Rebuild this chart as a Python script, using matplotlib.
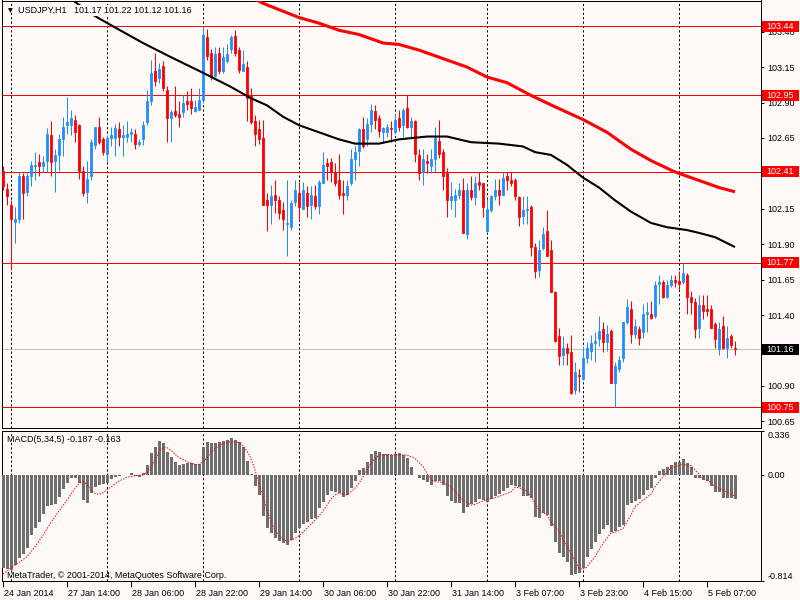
import numpy as np
import matplotlib
matplotlib.use('Agg')
import matplotlib.pyplot as plt
from matplotlib.patches import Rectangle
import matplotlib.transforms as mtransforms

# ---------------- data ----------------
opens = [102.42, 102.29, 102.18, 102.06, 102.08, 102.38, 102.27, 102.38, 102.45, 102.48,
         102.45, 102.49, 102.67, 102.49, 102.53, 102.64, 102.74, 102.74, 102.78, 102.74,
         102.42, 102.27, 102.38, 102.60, 102.73, 102.64, 102.54, 102.65, 102.65, 102.71,
         102.66, 102.66, 102.68, 102.68, 102.61, 102.64, 102.76, 102.91, 103.12, 103.07,
         103.16, 102.99, 102.79, 102.84, 102.82, 102.83, 102.91, 102.91, 102.84, 102.85,
         102.92, 103.36, 103.25, 103.09, 103.25, 103.12, 103.19, 103.28, 103.37, 103.27,
         103.12, 103.15, 102.95, 102.77, 102.71, 102.65, 102.21, 102.18, 102.25, 102.21,
         102.14, 102.04, 102.02, 102.20, 102.26, 102.15, 102.26, 102.18, 102.24, 102.17,
         102.33, 102.47, 102.48, 102.41, 102.35, 102.26, 102.25, 102.33, 102.50, 102.56,
         102.71, 102.64, 102.75, 102.84, 102.79, 102.69, 102.69, 102.72, 102.69, 102.79,
         102.74, 102.86, 102.73, 102.77, 102.53, 102.41, 102.49, 102.45, 102.50, 102.63,
         102.55, 102.41, 102.21, 102.21, 102.25, 102.28, 101.97, 102.28, 102.23, 102.34,
         102.33, 101.99, 102.14, 102.24, 102.28, 102.25, 102.38, 102.35, 102.35, 102.23,
         102.10, 102.14, 102.16, 101.88, 101.72, 101.87, 101.99, 101.86, 101.56, 101.25,
         101.12, 101.17, 101.14, 100.87, 100.98, 100.95, 101.10, 101.15, 101.20, 101.23,
         101.30, 101.21, 101.29, 100.92, 101.02, 101.10, 101.35, 101.44, 101.27, 101.30,
         101.28, 101.41, 101.41, 101.39, 101.62, 101.63, 101.53, 101.61, 101.65, 101.64,
         101.63, 101.68, 101.53, 101.49, 101.31, 101.47, 101.44, 101.44, 101.34, 101.16,
         101.32, 101.17, 101.25, 101.17]
highs = [102.45, 102.33, 102.21, 102.16, 102.41, 102.40, 102.41, 102.49, 102.55, 102.54,
         102.52, 102.72, 102.77, 102.57, 102.68, 102.80, 102.94, 102.85, 102.81, 102.75,
         102.45, 102.49, 102.64, 102.73, 102.80, 102.66, 102.67, 102.73, 102.75, 102.76,
         102.74, 102.77, 102.72, 102.71, 102.64, 102.77, 102.99, 103.20, 103.25, 103.18,
         103.19, 103.02, 102.85, 103.02, 102.91, 102.95, 102.98, 103.00, 102.92, 103.00,
         103.44, 103.42, 103.28, 103.29, 103.29, 103.29, 103.31, 103.38, 103.41, 103.29,
         103.27, 103.19, 103.00, 102.81, 102.78, 102.78, 102.26, 102.32, 102.35, 102.24,
         102.20, 102.35, 102.21, 102.35, 102.34, 102.34, 102.31, 102.31, 102.32, 102.35,
         102.55, 102.51, 102.51, 102.47, 102.54, 102.35, 102.35, 102.57, 102.59, 102.72,
         102.80, 102.79, 102.89, 102.88, 102.81, 102.73, 102.75, 102.77, 102.82, 102.85,
         102.86, 102.95, 102.80, 102.78, 102.57, 102.57, 102.54, 102.57, 102.73, 102.78,
         102.57, 102.44, 102.34, 102.29, 102.33, 102.37, 102.33, 102.38, 102.38, 102.41,
         102.33, 102.22, 102.25, 102.36, 102.36, 102.41, 102.41, 102.41, 102.37, 102.24,
         102.24, 102.24, 102.18, 101.91, 101.93, 102.02, 102.14, 101.93, 101.57, 101.31,
         101.25, 101.20, 101.26, 101.07, 101.02, 101.18, 101.21, 101.26, 101.28, 101.39,
         101.35, 101.33, 101.30, 101.07, 101.11, 101.35, 101.51, 101.50, 101.37, 101.32,
         101.48, 101.49, 101.50, 101.64, 101.68, 101.65, 101.65, 101.68, 101.68, 101.71,
         101.77, 101.70, 101.57, 101.52, 101.54, 101.54, 101.54, 101.47, 101.35, 101.35,
         101.39, 101.32, 101.27, 101.22]
lows = [102.28, 102.18, 101.72, 101.91, 102.05, 102.08, 102.24, 102.31, 102.35, 102.38,
        102.41, 102.41, 102.38, 102.27, 102.42, 102.52, 102.68, 102.67, 102.62, 102.36,
        102.24, 102.19, 102.35, 102.57, 102.61, 102.53, 102.48, 102.59, 102.52, 102.59,
        102.52, 102.62, 102.62, 102.57, 102.59, 102.60, 102.74, 102.88, 103.02, 103.04,
        102.98, 102.62, 102.62, 102.80, 102.73, 102.80, 102.85, 102.82, 102.83, 102.85,
        102.90, 103.20, 103.06, 103.08, 103.10, 103.11, 103.18, 103.25, 103.23, 103.11,
        103.12, 102.77, 102.75, 102.59, 102.61, 102.18, 101.99, 102.04, 102.12, 102.08,
        102.00, 101.82, 102.00, 102.17, 102.07, 102.15, 102.09, 102.08, 102.15, 102.11,
        102.33, 102.35, 102.34, 102.31, 102.22, 102.11, 102.21, 102.32, 102.35, 102.45,
        102.58, 102.59, 102.69, 102.71, 102.66, 102.62, 102.66, 102.62, 102.68, 102.70,
        102.66, 102.72, 102.66, 102.48, 102.35, 102.32, 102.40, 102.40, 102.41, 102.51,
        102.28, 102.09, 102.15, 102.09, 102.22, 101.98, 101.94, 102.21, 102.18, 102.28,
        102.09, 101.98, 102.13, 102.21, 102.18, 102.25, 102.28, 102.31, 102.21, 102.03,
        102.04, 102.04, 101.82, 101.66, 101.67, 101.86, 101.82, 101.56, 101.21, 101.05,
        101.05, 101.05, 100.84, 100.84, 100.86, 100.94, 101.06, 101.08, 101.07, 101.18,
        101.14, 101.15, 100.92, 100.75, 101.00, 101.07, 101.34, 101.20, 101.24, 101.19,
        101.24, 101.28, 101.37, 101.38, 101.48, 101.52, 101.52, 101.60, 101.60, 101.58,
        101.62, 101.41, 101.41, 101.24, 101.24, 101.37, 101.39, 101.31, 101.17, 101.12,
        101.16, 101.10, 101.17, 101.12]
closes = [102.31, 102.24, 102.08, 102.08, 102.38, 102.26, 102.38, 102.46, 102.46, 102.45,
          102.48, 102.68, 102.48, 102.53, 102.64, 102.73, 102.76, 102.79, 102.69, 102.42,
          102.26, 102.36, 102.62, 102.73, 102.62, 102.55, 102.65, 102.67, 102.72, 102.66,
          102.67, 102.68, 102.69, 102.61, 102.62, 102.74, 102.91, 103.11, 103.05, 103.14,
          103.00, 102.79, 102.83, 102.81, 102.80, 102.90, 102.89, 102.86, 102.87, 102.92,
          103.38, 103.23, 103.09, 103.24, 103.12, 103.22, 103.24, 103.36, 103.25, 103.13,
          103.17, 102.93, 102.76, 102.68, 102.64, 102.18, 102.18, 102.24, 102.21, 102.12,
          102.08, 102.05, 102.19, 102.28, 102.16, 102.28, 102.17, 102.25, 102.17, 102.34,
          102.46, 102.45, 102.41, 102.33, 102.25, 102.25, 102.31, 102.50, 102.55, 102.71,
          102.59, 102.75, 102.85, 102.78, 102.70, 102.72, 102.73, 102.71, 102.78, 102.73,
          102.85, 102.73, 102.77, 102.54, 102.40, 102.50, 102.47, 102.50, 102.65, 102.54,
          102.38, 102.21, 102.24, 102.25, 102.28, 101.98, 102.28, 102.23, 102.33, 102.32,
          102.16, 102.15, 102.24, 102.28, 102.25, 102.37, 102.35, 102.33, 102.24, 102.09,
          102.14, 102.15, 101.88, 101.71, 101.86, 101.97, 101.82, 101.56, 101.22, 101.11,
          101.17, 101.13, 100.85, 101.00, 100.97, 101.10, 101.17, 101.20, 101.22, 101.29,
          101.21, 101.27, 100.92, 101.04, 101.08, 101.35, 101.46, 101.27, 101.32, 101.24,
          101.41, 101.42, 101.38, 101.61, 101.63, 101.53, 101.61, 101.65, 101.63, 101.62,
          101.70, 101.53, 101.49, 101.30, 101.47, 101.43, 101.43, 101.31, 101.23, 101.30,
          101.17, 101.24, 101.19, 101.16]

macd = [-0.713, -0.723, -0.731, -0.692, -0.641, -0.608, -0.565, -0.463, -0.406, -0.360,
        -0.304, -0.241, -0.233, -0.225, -0.169, -0.113, -0.062, -0.029, -0.029, -0.067,
        -0.195, -0.215, -0.144, -0.093, -0.080, -0.075, -0.067, -0.036, -0.016, -0.008,
        -0.003, -0.003, 0.010, -0.008, -0.021, 0.015, 0.073, 0.168, 0.214, 0.257,
        0.239, 0.175, 0.132, 0.099, 0.073, 0.078, 0.086, 0.086, 0.078, 0.078,
        0.214, 0.252, 0.239, 0.239, 0.247, 0.257, 0.265, 0.278, 0.265, 0.252,
        0.214, 0.104, 0.002, -0.087, -0.156, -0.314, -0.411, -0.450, -0.488, -0.508,
        -0.526, -0.539, -0.501, -0.445, -0.411, -0.381, -0.366, -0.340, -0.330, -0.258,
        -0.207, -0.156, -0.126, -0.131, -0.144, -0.169, -0.156, -0.105, -0.049, 0.035,
        0.053, 0.099, 0.155, 0.181, 0.170, 0.155, 0.155, 0.150, 0.155, 0.163,
        0.150, 0.124, 0.061, -0.003, -0.024, -0.041, -0.054, -0.080, -0.047, -0.049,
        -0.080, -0.161, -0.202, -0.215, -0.215, -0.292, -0.246, -0.228, -0.207, -0.187,
        -0.195, -0.207, -0.187, -0.161, -0.151, -0.126, -0.105, -0.080, -0.087, -0.093,
        -0.161, -0.161, -0.177, -0.322, -0.330, -0.297, -0.309, -0.391, -0.514, -0.603,
        -0.628, -0.667, -0.769, -0.764, -0.756, -0.718, -0.628, -0.570, -0.514, -0.457,
        -0.417, -0.386, -0.442, -0.432, -0.399, -0.386, -0.233, -0.220, -0.202, -0.187,
        -0.156, -0.118, -0.105, -0.024, 0.027, 0.040, 0.061, 0.073, 0.094, 0.099,
        0.119, 0.086, 0.061, -0.029, -0.029, -0.041, -0.049, -0.087, -0.131, -0.131,
        -0.177, -0.177, -0.182, -0.187]

signal_idx = [0, 2, 4, 6, 8, 10, 12, 14, 16, 18, 19, 20, 21, 22, 23, 24, 25, 27, 29, 31,
              33, 35, 36, 37, 38, 39, 40, 41, 42, 43, 44, 46, 48, 49, 50, 51, 52, 53, 55, 57,
              59, 60, 61, 62, 63, 64, 65, 66, 67, 68, 69, 70, 71, 72, 73, 74, 75, 76, 77, 78,
              79, 80, 81, 82, 83, 84, 85, 86, 87, 88, 89, 90, 91, 92, 93, 94, 96, 98, 100, 101,
              103, 105, 107, 108, 110, 112, 113, 115, 117, 118, 120, 122, 123, 125, 127, 128, 129, 131, 132, 134,
              136, 137, 139, 141, 142, 144, 145, 146, 148, 150, 152, 153, 155, 157, 158, 160, 162, 163, 165, 167,
              168, 170, 172, 173, 175, 177, 178, 180, 182, 183]
signal_val = [-0.761, -0.713, -0.672, -0.628, -0.552, -0.463, -0.366, -0.279, -0.195, -0.105,
              -0.067, -0.054, -0.075, -0.118, -0.144, -0.151, -0.138, -0.093, -0.049, -0.021,
              -0.008, -0.003, 0.015, 0.061, 0.112, 0.170, 0.206, 0.206, 0.188, 0.155,
              0.130, 0.099, 0.078, 0.078, 0.099, 0.130, 0.170, 0.201, 0.239, 0.252,
              0.247, 0.221, 0.181, 0.124, 0.035, -0.067, -0.169, -0.271, -0.360, -0.424,
              -0.468, -0.496, -0.506, -0.501, -0.488, -0.468, -0.442, -0.411, -0.381, -0.348,
              -0.315, -0.279, -0.233, -0.187, -0.156, -0.144, -0.151, -0.156, -0.131, -0.105,
              -0.067, -0.016, 0.035, 0.086, 0.124, 0.145, 0.155, 0.150, 0.150, 0.150,
              0.124, 0.061, -0.041, -0.054, -0.059, -0.093, -0.131, -0.195, -0.233, -0.228,
              -0.202, -0.182, -0.177, -0.156, -0.131, -0.098, -0.100, -0.126, -0.169, -0.271,
              -0.309, -0.361, -0.437, -0.552, -0.603, -0.718, -0.723, -0.705, -0.628, -0.526,
              -0.445, -0.442, -0.411, -0.309, -0.246, -0.195, -0.149, -0.093, -0.016, 0.053,
              0.061, 0.078, 0.068, 0.035, -0.029, -0.059, -0.093, -0.118, -0.151, -0.163]

ma_black_idx = [17, 23, 28, 35, 42, 50, 57, 62, 66, 70, 74, 79, 84, 88, 94, 99, 106, 111,
                117, 124, 130, 133, 137, 141, 145, 149, 153, 157, 162, 166, 171, 174, 178, 183]
ma_black_val = [103.63, 103.51, 103.43, 103.32, 103.22, 103.11, 103.01, 102.93, 102.88,
                102.80, 102.74, 102.69, 102.64, 102.61, 102.61, 102.64, 102.66, 102.66,
                102.62, 102.61, 102.59, 102.55, 102.53, 102.46, 102.37, 102.30, 102.21,
                102.13, 102.05, 102.02, 102.00, 101.98, 101.95, 101.88]

ma_red_idx = [63, 65, 74, 79, 84, 89, 95, 99, 104, 109, 116, 121, 126, 132, 138, 145, 151,
              157, 162, 168, 174, 179, 183]
ma_red_val = [103.63, 103.60, 103.50, 103.46, 103.41, 103.38, 103.32, 103.31, 103.27, 103.22,
              103.15, 103.08, 103.04, 102.95, 102.87, 102.78, 102.69, 102.57, 102.49, 102.41,
              102.35, 102.30, 102.27]

levels_red = [103.44, 102.95, 102.41, 101.77, 100.75]
level_last = 101.16

price_ticks = [103.40, 103.15, 102.90, 102.65, 102.40, 102.15, 101.90, 101.65, 101.40,
               101.15, 100.90, 100.65]
# 102.40 and 101.15 are fully covered by the level boxes in the original
price_tick_labels = ['103.40', '103.15', '102.90', '102.65', '', '102.15', '101.90',
                     '101.65', '101.40', '', '100.90', '100.65']
macd_ticks = [0.336, 0.0, -0.814]
macd_tick_labels = ['0.336', '0.00', '-0.814']

day_starts = [2, 26, 50, 74, 98, 121, 145, 169]
time_tick_idx = [0, 16, 32, 48, 64, 80, 96, 112, 128, 144, 160, 176]
time_tick_labels = ['24 Jan 2014', '27 Jan 14:00', '28 Jan 06:00', '28 Jan 22:00',
                    '29 Jan 14:00', '30 Jan 06:00', '30 Jan 22:00', '31 Jan 14:00',
                    '3 Feb 07:00', '3 Feb 23:00', '4 Feb 15:00', '5 Feb 07:00']

# ---------------- style ----------------
plt.rcParams['font.family'] = ['Liberation Sans', 'DejaVu Sans']
FS = 6.5
BG = '#fffaf8'
BLUE = '#1e90ff'
RED = '#ff0000'
PX = 0.72  # one pixel in points at 100 dpi

fig = plt.figure(figsize=(8, 6), dpi=100, facecolor=BG)
L, R = 2.3, 760.7
ax = fig.add_axes([L / 800, 1 - 428.3 / 600, (R - L) / 800, (428.3 - 0.5) / 600])
ax2 = fig.add_axes([L / 800, 1 - 581 / 600, (R - L) / 800, (581 - 430.7) / 600])

for a in (ax, ax2):
    a.set_facecolor(BG)
    for s in a.spines.values():
        s.set_color('black')
        s.set_linewidth(PX)
    a.set_xlim(-0.175, 189.425)
    for d in day_starts:
        a.axvline(d, color='black', lw=PX, dashes=(2.2, 2.2), zorder=1)

ax.set_ylim(100.601, 103.620)
ax2.set_ylim(-0.814, 0.336)

o = np.array(opens); h = np.array(highs); lo = np.array(lows); c = np.array(closes)
x = np.arange(len(o))
cols = np.where(c >= o, BLUE, RED)

# levels
for lv in levels_red:
    ax.axhline(lv, color=RED, lw=PX, zorder=1.5)
ax.axhline(level_last, color='#c0c0c0', lw=PX, zorder=1.5)

# candles
ax.vlines(x, lo, h, colors=cols, lw=PX, zorder=3)
ax.bar(x, np.abs(c - o), bottom=np.minimum(o, c), width=0.55, color=cols,
       edgecolor=cols, linewidth=0.6, zorder=3.1)

# moving averages
ax.plot(ma_red_idx, ma_red_val, color=RED, lw=2.2, zorder=4, solid_capstyle='butt')
ax.plot(ma_black_idx, ma_black_val, color='black', lw=1.5, zorder=4, solid_capstyle='butt')

# price axis
ax.set_xticks([])
ax.yaxis.tick_right()
ax.set_yticks(price_ticks)
ax.set_yticklabels(price_tick_labels)
ax.tick_params(axis='y', which='both', direction='out', length=2.5, width=PX,
               pad=2.5, labelsize=FS, colors='black', right=True, left=False,
               labelright=True, labelleft=False)

# level boxes on the price axis
btr = mtransforms.blended_transform_factory(fig.transFigure, ax.transData)
box_h = 11 * (103.620 - 100.601) / 427.8
for lv, fc in [(v, RED) for v in levels_red] + [(level_last, 'black')]:
    ax.add_patch(Rectangle((761.5 / 800, lv - box_h / 2), (798.5 - 761.5) / 800, box_h,
                           transform=btr, facecolor=fc, edgecolor='none',
                           clip_on=False, zorder=6))
    ax.text(766 / 800, lv, '%.2f' % lv, transform=btr, color='white', fontsize=FS,
            va='center', ha='left', zorder=7, clip_on=False)

# MACD pane
ax2.bar(x, macd, width=0.75, color='#6e6e6e', zorder=3)
ax2.plot(signal_idx, signal_val, color=RED, lw=PX, dashes=(1.4, 1.4), zorder=4)
ax2.yaxis.tick_right()
ax2.set_yticks(macd_ticks)
ax2.set_yticklabels(macd_tick_labels)
ax2.tick_params(axis='y', direction='out', length=2.5, width=PX, pad=2.5,
                labelsize=FS, colors='black', right=True, left=False,
                labelright=True, labelleft=False)
yl = ax2.get_yticklabels()
yl[0].set_va('top')
yl[-1].set_va('bottom')

ax2.set_xticks(time_tick_idx)
ax2.set_xticklabels(time_tick_labels)
ax2.tick_params(axis='x', direction='out', length=4, width=PX, pad=1.5,
                labelsize=FS, colors='black')
off = mtransforms.ScaledTranslation(1 / 100, 0, fig.dpi_scale_trans)
for lab in ax2.get_xticklabels():
    lab.set_ha('left')
    lab.set_transform(lab.get_transform() + off)

# texts
fig.text(8 / 800, 1 - 10.5 / 600, '\u25bc', fontsize=4.5, family='DejaVu Sans',
         va='center', ha='left', color='black', zorder=10)
fig.text(18 / 800, 1 - 10.5 / 600, 'USDJPY,H1   101.17 101.22 101.12 101.16',
         fontsize=FS, va='center', ha='left', color='black', zorder=10,
         bbox=dict(boxstyle='square,pad=0.15', facecolor=BG, edgecolor='none'))
fig.text(7 / 800, 1 - 439 / 600, 'MACD(5,34,5) -0.187 -0.163', fontsize=FS,
         va='center', ha='left', color='black', zorder=10)
fig.text(7 / 800, 1 - 575 / 600, 'MetaTrader, \u00a9 2001-2014, MetaQuotes Software Corp.',
         fontsize=FS, va='center', ha='left', color='black', zorder=10)

fig.savefig('out.png', dpi=100, facecolor=BG)
